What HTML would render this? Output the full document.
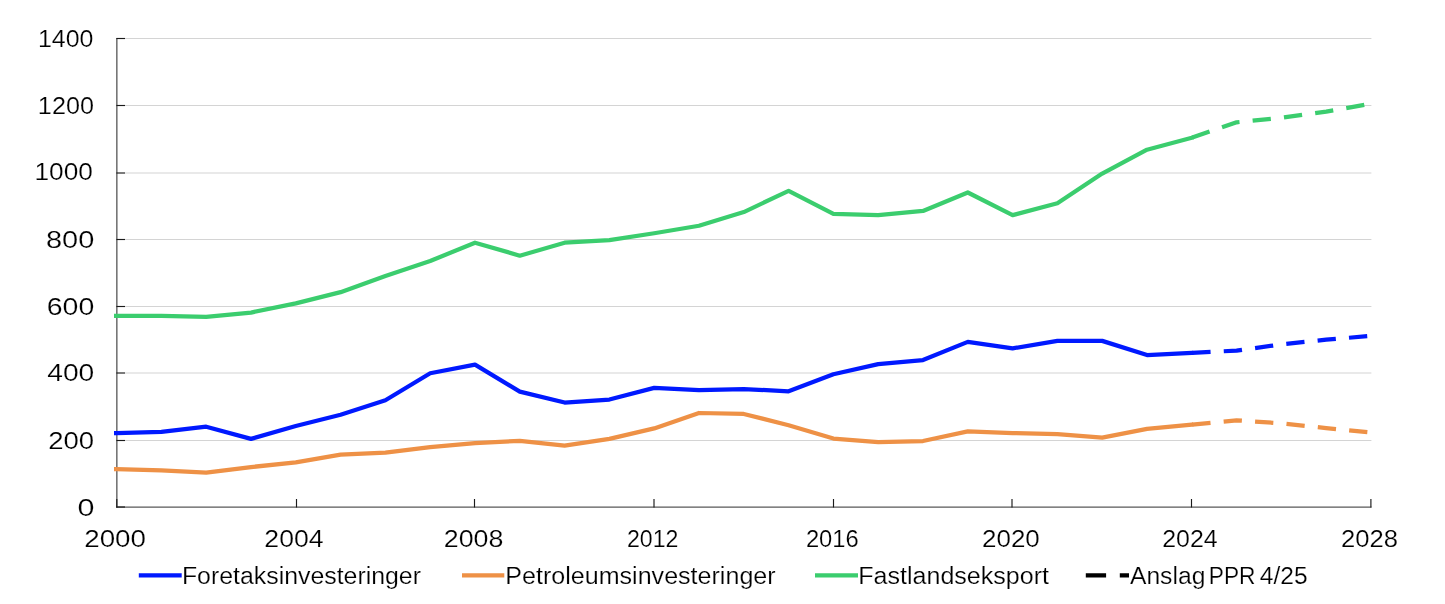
<!DOCTYPE html>
<html lang="no"><head><meta charset="utf-8"><title>Figur</title>
<style>
html,body{margin:0;padding:0;background:#fff}
svg{display:block}
text{font-family:"Liberation Sans",sans-serif;font-size:23px;fill:#000;stroke:#fff;stroke-width:0.18px}
.grid line{stroke:#d4d4d4;stroke-width:1.2}
.axis line{stroke:#595959;stroke-width:1.33}
.tick line{stroke:#1a1a1a;stroke-width:1.15}
.series polyline{fill:none;stroke-width:4.25;stroke-linejoin:round;stroke-linecap:butt}
</style></head><body>
<svg width="1445" height="604" viewBox="0 0 1445 604">
<rect width="1445" height="604" fill="#fff"/>
<g class="grid">
<line x1="125" x2="1371.4" y1="440.5" y2="440.5"/>
<line x1="125" x2="1371.4" y1="373.0" y2="373.0"/>
<line x1="125" x2="1371.4" y1="306.5" y2="306.5"/>
<line x1="125" x2="1371.4" y1="239.5" y2="239.5"/>
<line x1="125" x2="1371.4" y1="173.0" y2="173.0"/>
<line x1="125" x2="1371.4" y1="105.5" y2="105.5"/>
<line x1="125" x2="1371.4" y1="38.5" y2="38.5"/>
</g>
<g class="axis">
<line x1="116.85" x2="116.85" y1="38" y2="507.6"/>
<line x1="116.2" x2="1371.5" y1="507.05" y2="507.05"/>
</g>
<g class="tick">
<line x1="116.4" x2="125" y1="507.0" y2="507.0"/>
<line x1="116.4" x2="125" y1="440.5" y2="440.5"/>
<line x1="116.4" x2="125" y1="373.0" y2="373.0"/>
<line x1="116.4" x2="125" y1="306.5" y2="306.5"/>
<line x1="116.4" x2="125" y1="239.5" y2="239.5"/>
<line x1="116.4" x2="125" y1="173.0" y2="173.0"/>
<line x1="116.4" x2="125" y1="105.5" y2="105.5"/>
<line x1="116.4" x2="125" y1="38.5" y2="38.5"/>
<line x1="116.8" x2="116.8" y1="507.5" y2="499"/>
<line x1="296.5" x2="296.5" y1="507.5" y2="499"/>
<line x1="474.5" x2="474.5" y1="507.5" y2="499"/>
<line x1="654.0" x2="654.0" y1="507.5" y2="499"/>
<line x1="833.5" x2="833.5" y1="507.5" y2="499"/>
<line x1="1012.0" x2="1012.0" y1="507.5" y2="499"/>
<line x1="1191.5" x2="1191.5" y1="507.5" y2="499"/>
<line x1="1370.9" x2="1370.9" y1="507.5" y2="499"/>
</g>
<g class="series">
<polyline points="114.0,433.18 116.6,433.18 161.4,431.93 206.2,426.70 251.0,438.91 295.8,425.95 340.6,414.74 385.4,400.29 430.2,373.26 475.0,364.66 519.8,391.57 564.6,402.53 609.4,399.54 654.2,387.83 699.0,390.08 743.8,389.08 788.6,391.32 833.4,374.28 878.2,364.06 923.0,360.08 967.8,341.89 1012.6,348.37 1057.4,340.89 1102.2,340.89 1147.0,355.09 1191.8,352.85 1193.3,352.78" stroke="#0019ff" class="solid"/>
<polyline points="1191.8,352.85 1236.6,350.61 1281.4,344.38 1326.2,339.65 1371.0,335.91" stroke="#0019ff" stroke-dasharray="18.3 13.2" stroke-dashoffset="-0.5"/>
<polyline points="114.0,469.05 116.6,469.05 161.4,470.30 206.2,472.54 251.0,467.06 295.8,462.33 340.6,454.60 385.4,452.61 430.2,447.13 475.0,443.14 519.8,440.90 564.6,445.63 609.4,438.91 654.2,428.44 699.0,413.00 743.8,413.99 788.6,425.20 833.4,438.55 878.2,442.04 923.0,441.04 967.8,431.33 1012.6,433.07 1057.4,434.07 1102.2,437.68 1147.0,428.84 1191.8,424.60 1193.3,424.46" stroke="#ee9146" class="solid"/>
<polyline points="1191.8,424.60 1236.6,420.37 1281.4,423.36 1326.2,428.09 1371.0,432.57" stroke="#ee9146" stroke-dasharray="18.3 13.2" stroke-dashoffset="-0.5"/>
<polyline points="114.0,315.81 116.6,315.81 161.4,315.81 206.2,316.81 251.0,312.57 295.8,303.36 340.6,292.15 385.4,275.95 430.2,261.00 475.0,242.71 519.8,255.67 564.6,242.71 609.4,240.22 654.2,233.25 699.0,225.77 743.8,212.07 788.6,190.89 833.4,213.92 878.2,215.17 923.0,210.93 967.8,192.50 1012.6,215.17 1057.4,203.21 1102.2,173.56 1147.0,149.69 1191.8,137.73 1193.3,137.21" stroke="#3bcd6e" class="solid"/>
<polyline points="1191.8,137.73 1236.6,122.28 1281.4,117.80 1326.2,111.57 1371.0,103.72" stroke="#3bcd6e" stroke-dasharray="18.3 13.2" stroke-dashoffset="-0.5"/>
</g>
<g class="ylab">
<text x="37.94" y="47.0" textLength="55.41" lengthAdjust="spacingAndGlyphs">1400</text>
<text x="37.89" y="114.0" textLength="56.03" lengthAdjust="spacingAndGlyphs">1200</text>
<text x="34.47" y="180.0" textLength="58.39" lengthAdjust="spacingAndGlyphs">1000</text>
<text x="45.94" y="248.0" textLength="48.30" lengthAdjust="spacingAndGlyphs">800</text>
<text x="46.74" y="315.0" textLength="47.47" lengthAdjust="spacingAndGlyphs">600</text>
<text x="47.23" y="381.0" textLength="47.05" lengthAdjust="spacingAndGlyphs">400</text>
<text x="48.20" y="449.0" textLength="45.91" lengthAdjust="spacingAndGlyphs">200</text>
<text x="77.40" y="516.0" textLength="16.96" lengthAdjust="spacingAndGlyphs">0</text>
</g>
<g class="xlab">
<text x="84.23" y="547.0" textLength="61.71" lengthAdjust="spacingAndGlyphs">2000</text>
<text x="264.36" y="547.0" textLength="59.18" lengthAdjust="spacingAndGlyphs">2004</text>
<text x="443.76" y="547.0" textLength="59.55" lengthAdjust="spacingAndGlyphs">2008</text>
<text x="626.90" y="547.0" textLength="51.48" lengthAdjust="spacingAndGlyphs">2012</text>
<text x="805.92" y="547.0" textLength="52.83" lengthAdjust="spacingAndGlyphs">2016</text>
<text x="982.08" y="547.0" textLength="57.71" lengthAdjust="spacingAndGlyphs">2020</text>
<text x="1162.23" y="547.0" textLength="55.40" lengthAdjust="spacingAndGlyphs">2024</text>
<text x="1340.95" y="547.0" textLength="56.95" lengthAdjust="spacingAndGlyphs">2028</text>
</g>
<g class="legend">
<line x1="138.8" x2="181.7" y1="575.4" y2="575.4" stroke="#0019ff" stroke-width="4.25"/>
<text x="181.95" y="584.0" textLength="239.02" lengthAdjust="spacingAndGlyphs">Foretaksinvesteringer</text>
<line x1="462" x2="504.3" y1="575.4" y2="575.4" stroke="#ee9146" stroke-width="4.25"/>
<text x="505.33" y="584.0" textLength="270.29" lengthAdjust="spacingAndGlyphs">Petroleumsinvesteringer</text>
<line x1="815" x2="858" y1="575.4" y2="575.4" stroke="#3bcd6e" stroke-width="4.25"/>
<text x="858.34" y="584.0" textLength="190.64" lengthAdjust="spacingAndGlyphs">Fastlandseksport</text>
<line x1="1085.8" x2="1129" y1="575.45" y2="575.45" stroke="#000" stroke-width="4.3" stroke-dasharray="20.3 13.7"/>
<text y="584"><tspan x="1129.95" textLength="75.43" lengthAdjust="spacingAndGlyphs">Anslag</tspan> <tspan x="1208.79" textLength="46.68" lengthAdjust="spacingAndGlyphs">PPR</tspan> <tspan x="1259.82" textLength="47.80" lengthAdjust="spacingAndGlyphs">4/25</tspan></text>
</g>
</svg>
</body></html>
